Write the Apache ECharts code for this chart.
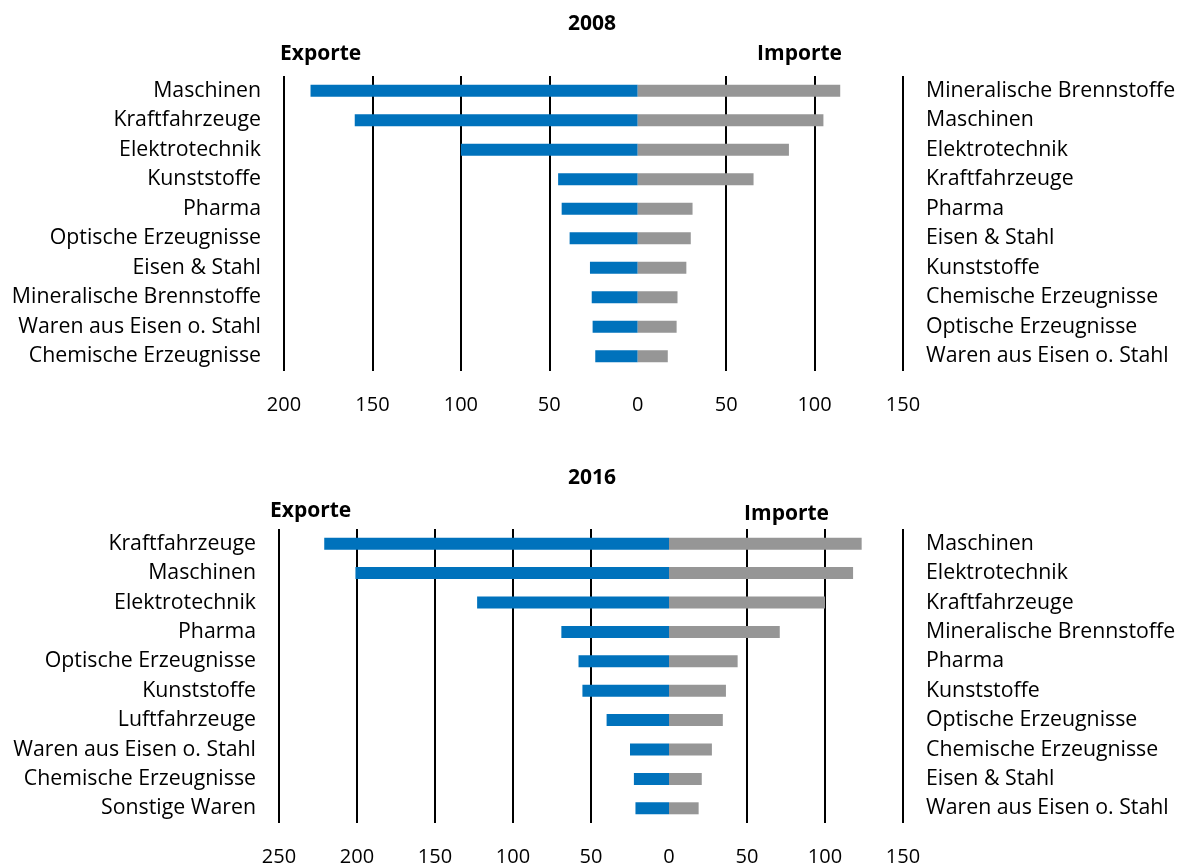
<!DOCTYPE html>
<html>
<head>
<meta charset="utf-8">
<script src="https://cdn.jsdelivr.net/npm/echarts@6/dist/echarts.min.js"></script>
<style>
  html, body { margin: 0; padding: 0; background: #fff; }
  #chart { width: 1182px; height: 867px; }
</style>
</head>
<body>
<div id="chart"></div>
<script>
// 2008: top ten export and import goods (Mrd. €), ranked per side
const exportNames2008 = ['Maschinen', 'Kraftfahrzeuge', 'Elektrotechnik', 'Kunststoffe', 'Pharma',
  'Optische Erzeugnisse', 'Eisen & Stahl', 'Mineralische Brennstoffe', 'Waren aus Eisen o. Stahl', 'Chemische Erzeugnisse'];
const exports2008 = [185, 160, 100, 45, 43, 38.5, 27, 26, 25.5, 24];
const importNames2008 = ['Mineralische Brennstoffe', 'Maschinen', 'Elektrotechnik', 'Kraftfahrzeuge', 'Pharma',
  'Eisen & Stahl', 'Kunststoffe', 'Chemische Erzeugnisse', 'Optische Erzeugnisse', 'Waren aus Eisen o. Stahl'];
const imports2008 = [114.5, 105, 85.5, 65.5, 31, 30, 27.5, 22.5, 22, 17];

// 2016
const exportNames2016 = ['Kraftfahrzeuge', 'Maschinen', 'Elektrotechnik', 'Pharma', 'Optische Erzeugnisse',
  'Kunststoffe', 'Luftfahrzeuge', 'Waren aus Eisen o. Stahl', 'Chemische Erzeugnisse', 'Sonstige Waren'];
const exports2016 = [221, 201, 123, 69, 58, 55.5, 40, 25, 22.5, 21.5];
const importNames2016 = ['Maschinen', 'Elektrotechnik', 'Kraftfahrzeuge', 'Mineralische Brennstoffe', 'Pharma',
  'Kunststoffe', 'Optische Erzeugnisse', 'Chemische Erzeugnisse', 'Eisen & Stahl', 'Waren aus Eisen o. Stahl'];
const imports2016 = [123.5, 118, 100, 71, 44, 36.5, 34.5, 27.5, 21, 19];

// axis ranges (exports run to the left, shown as positive numbers)
const range2008 = [-200, 150];
const range2016 = [-250, 150];
const tickStep = 50;

const FONT = '"Source Sans Pro", "Open Sans", "Noto Sans", sans-serif';
const BLUE = '#0072bc';
const GREY = '#969696';

// vertical rules at every tick except zero
function ruleValues(range) {
  const out = [];
  for (let v = range[0]; v <= range[1]; v += tickStep) if (v !== 0) out.push({ xAxis: v });
  return out;
}

function panel(idx, range, expNames, expVals, impNames, impVals) {
  return {
    xAxis: {
      type: 'value', gridIndex: idx, min: range[0], max: range[1], interval: tickStep,
      axisLine: { show: false }, axisTick: { show: false }, splitLine: { show: false },
      axisLabel: {
        color: '#000', fontFamily: FONT, fontSize: 20, margin: 24,
        formatter: v => String(Math.abs(v))
      }
    },
    yAxes: [
      {
        type: 'category', gridIndex: idx, data: expNames, inverse: true, position: 'left',
        axisLine: { show: false }, axisTick: { show: false },
        axisLabel: { color: '#000', fontFamily: FONT, fontSize: 21.3, margin: 23, padding: [2, 0, 0, 0] }
      },
      {
        type: 'category', gridIndex: idx, data: impNames, inverse: true, position: 'right',
        axisLine: { show: false }, axisTick: { show: false },
        axisLabel: { color: '#000', fontFamily: FONT, fontSize: 21.3, margin: 23, align: 'left', padding: [2, 0, 0, 0] }
      }
    ],
    series: (xi, yi) => [
      {
        type: 'line', xAxisIndex: xi, yAxisIndex: yi, data: [], z: 1, silent: true,
        markLine: {
          z: 1, silent: true, symbol: 'none', label: { show: false },
          lineStyle: { color: '#000', width: 2, type: 'solid' },
          data: ruleValues(range)
        }
      },
      {
        type: 'bar', xAxisIndex: xi, yAxisIndex: yi, stack: 'trade' + idx, z: 3,
        barWidth: 12, itemStyle: { color: BLUE },
        data: expVals.map(v => -v)
      },
      {
        type: 'bar', xAxisIndex: xi, yAxisIndex: yi, stack: 'trade' + idx, z: 3,
        barWidth: 12, itemStyle: { color: GREY },
        data: impVals
      }
    ]
  };
}

const p1 = panel(0, range2008, exportNames2008, exports2008, importNames2008, imports2008);
const p2 = panel(1, range2016, exportNames2016, exports2016, importNames2016, imports2016);

const boldText = { fontFamily: FONT, fontSize: 21, fontWeight: 'bold', color: '#000' };

const option = {
  animation: false,
  backgroundColor: '#fff',
  title: [
    { text: '2008', left: 592, top: 14, padding: 0, textAlign: 'center', textStyle: boldText },
    { text: 'Exporte', left: 280, top: 44, padding: 0, textStyle: boldText },
    { text: 'Importe', left: 842, top: 44, padding: 0, textAlign: 'right', textStyle: boldText },
    { text: '2016', left: 592, top: 468, padding: 0, textAlign: 'center', textStyle: boldText },
    { text: 'Exporte', left: 270, top: 501, padding: 0, textStyle: boldText },
    { text: 'Importe', left: 829, top: 504, padding: 0, textAlign: 'right', textStyle: boldText }
  ],
  grid: [
    { left: 284, right: 279, top: 76, height: 295 },
    { left: 279, right: 279, top: 529, height: 295 }
  ],
  xAxis: [p1.xAxis, p2.xAxis],
  yAxis: [...p1.yAxes, ...p2.yAxes],
  series: [...p1.series(0, 0), ...p2.series(1, 2)]
};

const chart = echarts.init(document.getElementById('chart'), null, { renderer: 'canvas' });
chart.setOption(option);
</script>
</body>
</html>
